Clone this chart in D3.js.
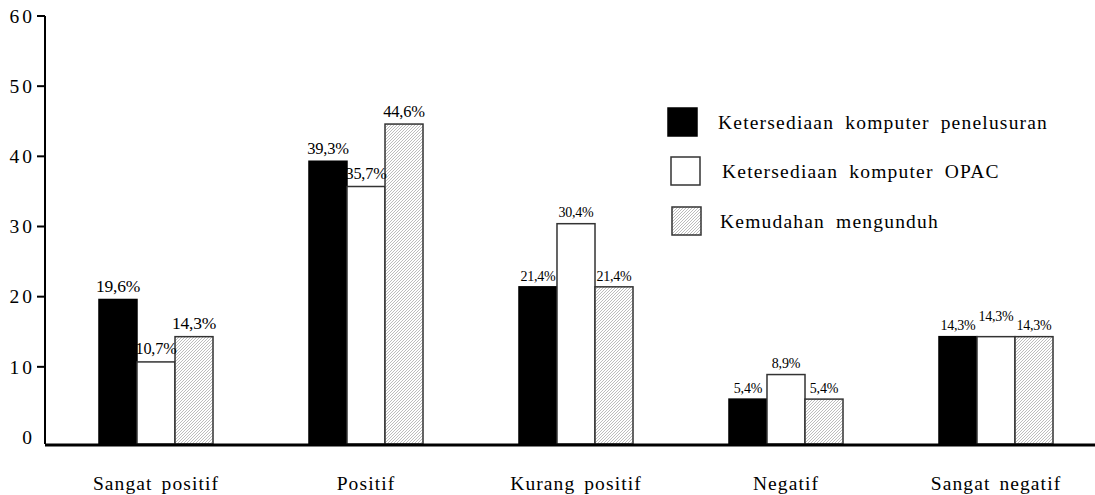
<!DOCTYPE html>
<html lang="id">
<head>
<meta charset="UTF-8">
<title>Grafik</title>
<style>
  body { margin: 0; background: #fff; }
  svg { display: block; }
  svg text { font-family: 'Liberation Serif', 'Times New Roman', Times, 'DejaVu Serif', serif; }
</style>
</head>
<body>
<svg id="chart" width="1095" height="495"></svg>
<script src="https://d3js.org/d3.v7.min.js"></script>
<script>
// data
const categories = ["Sangat positif", "Positif", "Kurang positif", "Negatif", "Sangat negatif"];
const series = ["Ketersediaan komputer penelusuran", "Ketersediaan komputer OPAC", "Kemudahan mengunduh"];
const penelusuran = [19.6, 39.3, 21.4, 5.4, 14.3];
const opac = [10.7, 35.7, 30.4, 8.9, 14.3];
const mengunduh = [14.3, 44.6, 21.4, 5.4, 14.3];
const yTicks = [0, 10, 20, 30, 40, 50, 60];

const values = [penelusuran, opac, mengunduh];

// label font size per group (the first two groups use bigger labels)
const labelSize = [17.5, 16.5, 14, 14, 14];

const svg = d3.select("#chart");

const y = d3.scaleLinear().domain([0, 60]).range([437, 16]);
const baseY = y(0) + 7;

const x0 = d3.scaleBand()
  .domain(categories)
  .range([51, 1101])
  .paddingInner(0.457)
  .paddingOuter(0.2285);

const x1 = d3.scaleBand()
  .domain(d3.range(series.length))
  .range([0, x0.bandwidth()]);

// hatch pattern
const defs = svg.append("defs");
const pat = defs.append("pattern")
  .attr("id", "hatch")
  .attr("patternUnits", "userSpaceOnUse")
  .attr("width", 3).attr("height", 3);
pat.append("rect").attr("width", 3).attr("height", 3).attr("fill", "#fff");
pat.append("path")
  .attr("d", "M-1,1 l2,-2 M0,3 l3,-3 M2,4 l2,-2")
  .attr("stroke", "#b4b4b4")
  .attr("stroke-width", 0.9);

const fills = ["#000", "#fff", "url(#hatch)"];
const strokes = ["#000", "#333", "#333"];

// bars
const groups = svg.append("g").selectAll("g")
  .data(categories)
  .join("g")
  .attr("transform", d => `translate(${x0(d)},0)`);

groups.selectAll("rect")
  .data((c, ci) => values.map((v, si) => ({ si, ci, v: v[ci] })))
  .join("rect")
  .attr("x", d => x1(d.si))
  .attr("y", d => y(d.v))
  .attr("width", x1.bandwidth())
  .attr("height", d => baseY - y(d.v))
  .attr("fill", d => fills[d.si])
  .attr("stroke", d => strokes[d.si])
  .attr("stroke-width", 1.5);

// value labels
const maxW = x1.bandwidth() + 3;
groups.selectAll("text")
  .data((c, ci) => values.map((v, si) => ({ si, ci, v: v[ci] })))
  .join("text")
  .attr("x", d => x1(d.si) + x1.bandwidth() / 2)
  .attr("y", d => y(d.v) - labelSize[d.ci] * 0.45 - (d.ci === 4 && d.si === 1 ? 9 : 0))
  .attr("text-anchor", "middle")
  .attr("font-size", d => labelSize[d.ci])
  .attr("letter-spacing", -0.2)
  .text(d => d3.format(".1f")(d.v).replace(".", ",") + "%")
  .each(function(d) {
    // the white bar labels are squeezed to the bar width
    if (d.si === 1 && this.getComputedTextLength() > maxW) {
      d3.select(this).attr("textLength", maxW).attr("lengthAdjust", "spacingAndGlyphs");
    }
  });

// y axis
const yAxis = svg.append("g");
yAxis.append("line")
  .attr("x1", 45).attr("x2", 45)
  .attr("y1", y(60)).attr("y2", baseY)
  .attr("stroke", "#000").attr("stroke-width", 2);
yAxis.selectAll(".tick")
  .data(yTicks.filter(t => t > 0))
  .join("line")
  .attr("x1", 37).attr("x2", 45)
  .attr("y1", d => y(d)).attr("y2", d => y(d))
  .attr("stroke", "#000").attr("stroke-width", 2);
yAxis.selectAll("text")
  .data(yTicks)
  .join("text")
  .attr("x", 35)
  .attr("y", d => y(d))
  .attr("dy", "0.35em")
  .attr("text-anchor", "end")
  .attr("font-size", 19.5)
  .attr("letter-spacing", 3)
  .text(d => d);

// x axis
svg.append("line")
  .attr("x1", 45).attr("x2", 1095)
  .attr("y1", baseY + 1).attr("y2", baseY + 1)
  .attr("stroke", "#000").attr("stroke-width", 3);

svg.append("g").selectAll("text")
  .data(categories)
  .join("text")
  .attr("x", d => x0(d) + x0.bandwidth() / 2)
  .attr("y", 490)
  .attr("text-anchor", "middle")
  .attr("font-size", 19.5)
  .attr("word-spacing", 3)
  .attr("letter-spacing", 1.1)
  .text(d => d);

// legend
const legendY = [122, 171, 221];
const legendX = [668, 671, 672];
const legendTextX = [718, 722, 720];
const legend = svg.append("g").selectAll("g")
  .data(series)
  .join("g");
legend.append("rect")
  .attr("x", (d, i) => legendX[i])
  .attr("y", (d, i) => legendY[i] - 14)
  .attr("width", 29).attr("height", 28)
  .attr("fill", (d, i) => fills[i])
  .attr("stroke", (d, i) => strokes[i])
  .attr("stroke-width", 1.5);
legend.append("text")
  .attr("x", (d, i) => legendTextX[i])
  .attr("y", (d, i) => legendY[i])
  .attr("dy", "0.35em")
  .attr("font-size", 19.5)
  .attr("word-spacing", 5)
  .attr("letter-spacing", 1.2)
  .text(d => d);
</script>
</body>
</html>
